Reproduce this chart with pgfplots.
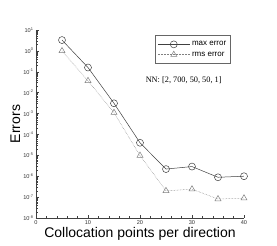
\documentclass[border=0pt]{standalone}
\usepackage{pgfplots}
\pgfplotsset{compat=1.18}
\usepackage{fontspec}
\setmainfont{Liberation Sans}
\newfontfamily\seriffont{Liberation Serif}
\definecolor{lineA}{HTML}{404040}
\definecolor{lineB}{HTML}{808080}
\begin{document}
\begin{tikzpicture}[x=1pt,y=1pt]
\useasboundingbox (0,0) rectangle (277,246);
\begin{axis}[
  at={(36pt,28pt)}, anchor=south west,
  scale only axis, width=208pt, height=188pt,
  ymode=log, xmin=0, xmax=40, ymin=1e-8, ymax=10,
  axis lines*=left, axis line style={-, black!75, line width=0.5pt},
  tick align=inside,
  major tick length=3pt, minor tick length=1.6pt,
  tick style={black!75, line width=0.4pt},
  xtick={0,10,20,30,40}, minor x tick num=4,
  ytick={1e-8,1e-7,1e-6,1e-5,1e-4,1e-3,1e-2,1e-1,1,10},
  yticklabels={10\textsuperscript{-8},10\textsuperscript{-7},10\textsuperscript{-6},10\textsuperscript{-5},10\textsuperscript{-4},10\textsuperscript{-3},10\textsuperscript{-2},10\textsuperscript{-1},10\textsuperscript{0},10\textsuperscript{1}},
  ticklabel style={font=\fontsize{5.6}{6}\selectfont, black!80},
  /pgf/number format/assume math mode=true,
  xticklabel style={yshift=1pt},
  yticklabel style={xshift=1pt},
  xlabel={Collocation points per direction},
  ylabel={Errors},
  label style={font=\fontsize{14}{16}\selectfont},
  xlabel style={yshift=4pt},
  ylabel style={yshift=-4pt},
  legend style={at={(0.935,0.972)}, anchor=north east, draw=black!60, line width=0.4pt,
    font=\fontsize{8}{9}\selectfont, row sep=0.5pt, inner xsep=2pt, inner ysep=4pt,
    nodes={inner sep=2pt}},
  legend cell align=left,
  legend image code/.code={\draw[mark repeat=2,mark phase=2] plot coordinates {(0pt,0pt) (16pt,0pt) (32pt,0pt)};},
]
\addplot[lineA, line width=0.5pt, mark=o, mark size=3.5pt, mark options={solid}] coordinates {
(5,3.3) (10,0.16) (15,3.1e-3) (20,4e-5) (25,2.2e-6) (30,2.9e-6) (35,8.9e-7) (40,1.0e-6)};
\addlegendentry{max error}
\addplot[lineB, line width=0.5pt, densely dotted, mark=triangle, mark size=3.5pt, mark options={solid}] coordinates {
(5,1.0) (10,0.037) (15,1.1e-3) (20,9.8e-6) (25,2.0e-7) (30,2.4e-7) (35,8.1e-8) (40,8.9e-8)};
\addlegendentry{rms error}
\node[font=\seriffont\fontsize{8.3}{10}\selectfont] at (rel axis cs:0.71,0.734) {NN: [2, 700, 50, 50, 1]};
\end{axis}
\end{tikzpicture}
\end{document}
